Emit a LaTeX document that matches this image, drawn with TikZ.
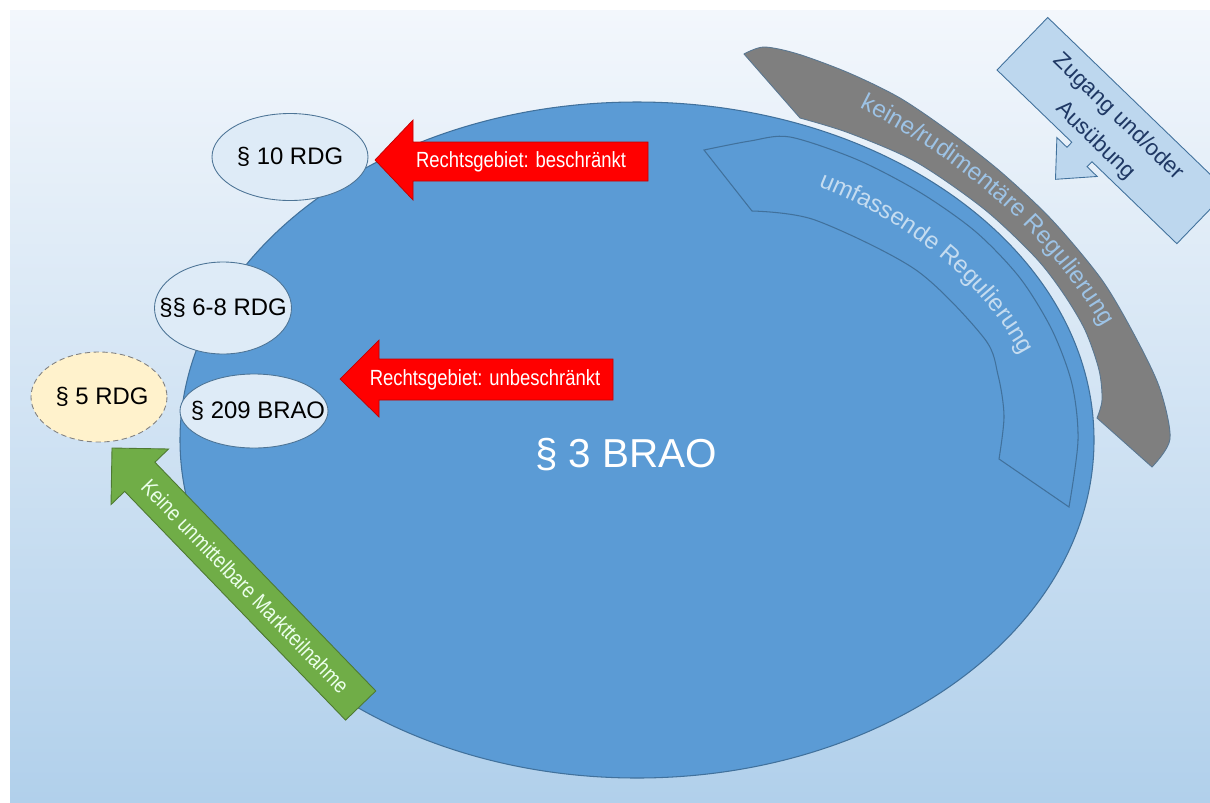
\documentclass[tikz,border=0pt]{standalone}
\usepackage{fontspec}
\setmainfont{Liberation Sans}
\newfontfamily\narrowfont[FakeStretch=0.84]{Liberation Sans}
\usetikzlibrary{decorations.text}
\definecolor{bgtop}{HTML}{F3F7FC}
\definecolor{bgbot}{HTML}{B1D0EB}
\definecolor{braoblue}{HTML}{5B9BD5}
\definecolor{braoline}{HTML}{41719C}
\definecolor{lightell}{HTML}{DEEBF7}
\definecolor{yellowell}{HTML}{FFF2CC}
\definecolor{bandgray}{HTML}{7F7F7F}
\definecolor{bandtxt}{HTML}{9DC3E6}
\definecolor{innertxt}{HTML}{C5DCF0}
\definecolor{calloutfill}{HTML}{BDD7EE}
\definecolor{navytxt}{HTML}{1F3864}
\definecolor{arrowgreen}{HTML}{70AD47}
\newcommand\bandfont{\fontsize{13.8}{16}\selectfont}

\begin{document}
\begin{tikzpicture}[x=0.02cm,y=-0.02cm,
    bigell/.style={fill=braoblue,draw=braoline,line width=0.6pt},
    smallell/.style={fill=lightell,draw=braoline!80!gray,line width=0.5pt},
    lbl/.style={font=\fontsize{13.6}{15}\selectfont,text=black,inner sep=0pt},
    redarrow/.style={fill=red,draw=red!75!black,line width=0.4pt},
    redtext/.style={font=\narrowfont\fontsize{12.5}{14}\selectfont,text=white,inner sep=0pt}]
  \useasboundingbox (0,0) rectangle (1210,802);
  \clip (0,0) rectangle (1210,802);
  \shade[top color=bgtop,bottom color=bgbot] (10,10) rectangle (1210,802);

  % grey band outside the big ellipse
  \filldraw[fill=bandgray,draw=braoline!60!gray,line width=0.5pt]
    plot[smooth] coordinates {(744,54) (764,47) (798,54) (849,73) (900,98) (950,132) (1001,172)
      (1052,220) (1102,280) (1136,338) (1160,389) (1170,439) (1152,467)}
    -- plot[smooth] coordinates {(1097,418) (1102,400) (1099,370) (1085,330) (1063,293) (1035,257)
      (984,209) (916,162) (849,133) (800,118)} -- cycle;

  % callout
  \begin{scope}[shift={(997,70)},rotate=-44]
    \draw[fill=calloutfill,draw=braoline,line width=0.5pt] (0,0) -- (104,0) -- (104,7) -- (90,7)
      -- (118,38) -- (146,7) -- (132,7) -- (132,0) -- (250,0) -- (250,-73) -- (0,-73) -- cycle;
    \node[rotate=-44,align=center,text=navytxt,inner sep=0pt,
      font=\fontsize{12.8}{18.7}\selectfont] (zugang) at (120,-34) {Zugang und/oder\\Ausübung};
  \end{scope}

  % big ellipse and inner band
  \draw[bigell] (637,440) ellipse [x radius=457, y radius=338];
  \filldraw[bigell]
    plot[smooth] coordinates {(704,150) (750,141) (790,137) (858,160) (921,193) (976,232)
      (1020,278) (1052,330) (1072,384) (1078,440) (1069,507)}
    -- plot[smooth] coordinates {(999,459) (1004,416) (998,375) (984,338) (916,270) (815,220)
      (752,211)} -- cycle;

  \path[decorate,decoration={text along path,text align=center,
      text={|\bandfont\color{bandtxt}|keine/rudimentäre Regulierung}}]
    (845,101) .. controls (964,157) and (1057,241) .. (1110,341);
  \path[decorate,decoration={text along path,text align=center,
      text={|\bandfont\color{innertxt}|umfassende Regulierung}}]
    (781,173) .. controls (909,214) and (999,290) .. (1038,391);

  \node[text=white,font=\fontsize{23}{26}\selectfont] (brao3) at (626,455) {§ 3 BRAO};

  % red arrows
  \draw[redarrow] (375,160) -- (413,120) -- (413,142) -- (648,142) -- (648,181) -- (413,181)
    -- (413,200) -- cycle;
  \node[redtext] (beschr) at (521,162) {Rechtsgebiet: beschränkt};
  \draw[redarrow] (340,379) -- (379,340) -- (379,359) -- (613,359) -- (613,400) -- (379,400)
    -- (379,417) -- cycle;
  \node[redtext] (unbeschr) at (485,380) {Rechtsgebiet: unbeschränkt};

  % small ellipses
  \draw[smallell] (290,157) ellipse [x radius=78, y radius=43.5];
  \node[lbl] (rdg10) at (290,157) {§ 10 RDG};
  \draw[smallell] (223,308) ellipse [x radius=68.5, y radius=46];
  \node[lbl] (rdg68) at (223,308) {§§ 6-8 RDG};
  \draw[smallell] (254,411) ellipse [x radius=74, y radius=37];
  \node[lbl] (brao209) at (258,411) {§ 209 BRAO};
  \draw[fill=yellowell,draw=gray,densely dashed,line width=0.5pt] (99,397) ellipse [x radius=68, y radius=45];
  \node[lbl] (rdg5) at (102,397) {§ 5 RDG};

  % green arrow
  \begin{scope}[shift={(112,448)},rotate=-46]
    \draw[fill=arrowgreen,draw=arrowgreen!70!black,line width=0.5pt] (0,0) -- (40,-40) -- (40,-21)
      -- (358,-21) -- (358,21) -- (40,21) -- (40,40) -- cycle;
    \node[rotate=-46,text=green!8!white,inner sep=0pt,
      font=\narrowfont\fontsize{12.6}{14}\selectfont] (markt) at (192,0) {Keine unmittelbare Marktteilnahme};
  \end{scope}
\end{tikzpicture}
\end{document}
